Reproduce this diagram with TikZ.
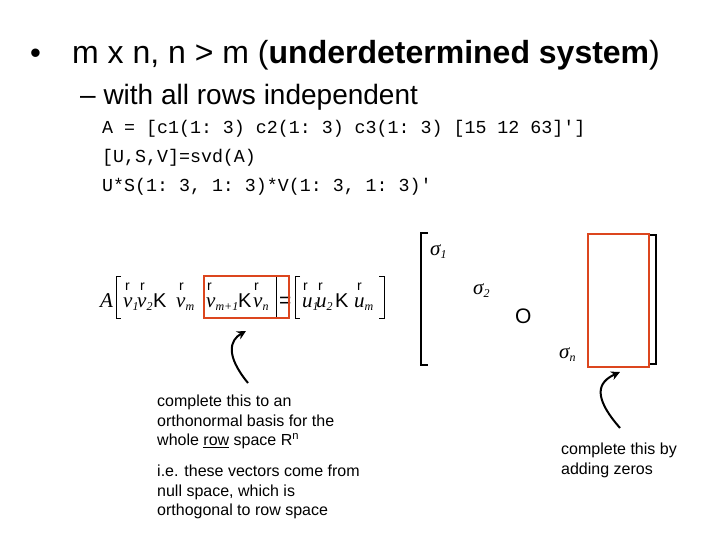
\documentclass[tikz,border=0pt]{standalone}
\usepackage{fontspec}
\usetikzlibrary{arrows.meta}
\setmainfont{Liberation Sans}
\setmonofont{Liberation Mono}
\newfontfamily\tms{Liberation Serif}
\newcommand{\iv}[2]{{\tms\itshape #1\textsubscript{\fontsize{12}{12}\selectfont #2}}}
\begin{document}
\begin{tikzpicture}[x=1pt,y=-1pt,
  txt/.style={anchor=base west,inner sep=0pt},
  mv/.style={txt,font=\fontsize{21}{21}\selectfont},
  rr/.style={txt,font=\fontsize{14}{14}\selectfont},
  kk/.style={txt,font=\fontsize{20}{20}\selectfont},
  brk/.style={line width=1pt},
  code/.style={txt,font=\ttfamily\fontsize{18.3}{18}\selectfont},
  note/.style={anchor=north west,inner sep=0pt,align=left,font=\fontsize{16}{19.5}\selectfont},
  redbox/.style={draw={rgb,255:red,220;green,70;blue,30},line width=2.5pt},
  arr/.style={line width=2pt,-{Stealth[length=9pt,width=9pt]}}]
\useasboundingbox (0,0) rectangle (720,540);
\node[txt,font=\fontsize{31}{31}\selectfont] (bu) at (30,64) {\textbullet};
\node[txt,font=\fontsize{32}{32}\selectfont] (t1) at (72,64) {m x n, n > m (\textbf{underdetermined system})};
\node[txt,font=\fontsize{28}{28}\selectfont] (t2) at (80,105) {– with all rows independent};
\node[code] (c1) at (102,134) {A = [c1(1: 3) c2(1: 3) c3(1: 3) [15 12 63]']};
\node[code] (c2) at (102,163) {[U,S,V]=svd(A)};
\node[code] (c3) at (102,192) {U*S(1: 3, 1: 3)*V(1: 3, 1: 3)'};
% equation pieces
\node[mv] (eA) at (100,307) {\iv{A}{}};
\draw[brk] (121,276) -- (116,276) -- (116,318) -- (121,318);
\node[mv] (ev1) at (123,307) {\iv{v}{1}};
\node[mv] (ev2) at (137,307) {\iv{v}{2}};
\node[kk] (ek1) at (153,307) {K};
\node[mv] (evm) at (176,307) {\iv{v}{m}};
\node[mv] (evm1) at (206,307) {\iv{v}{m+1}};
\node[kk] (ek2) at (238,307) {K};
\node[mv] (evn) at (253,307) {\iv{v}{n}};
\draw[brk] (271,276) -- (276,276) -- (276,318) -- (271,318);
\node[mv] (eeq) at (279,307) {=};
\draw[brk] (300,276) -- (295,276) -- (295,318) -- (300,318);
\node[mv] (eu1) at (302,307) {\iv{u}{1}};
\node[mv] (eu2) at (316,307) {\iv{u}{2}};
\node[kk] (ek3) at (335,307) {K};
\node[mv] (eum) at (354,307) {\iv{u}{m}};
\draw[brk] (379,276) -- (384,276) -- (384,318) -- (379,318);
\foreach \x/\n in {127/r1,142/r2,181/r3,209/r4,256/r5,305/r6,320/r7,359/r8}{
  \node[rr] (\n) at (\x-2,290) {r};}
\node[redbox,minimum width=85pt,minimum height=42pt,inner sep=0pt] (rb1) at (246.5,297) {};
% big matrix
\draw[line width=1.5pt] (428,233) -- (421,233) -- (421,365) -- (428,365);
\draw[line width=1.5pt] (650,235) -- (656,235) -- (656,364) -- (650,364);
\node[redbox,minimum width=61pt,minimum height=133pt,inner sep=0pt] (rb2) at (618.5,300.5) {};
\node[mv] (s1) at (430,255) {\iv{σ}{1}};
\node[mv] (s2) at (473,294) {\iv{σ}{2}};
\node[txt,font=\fontsize{21}{21}\selectfont] (o) at (515,323) {O};
\node[mv] (sn) at (559,358) {\iv{σ}{n}};
\coordinate (a1s) at (248,383);
\coordinate (a2s) at (620,428);
\draw[arr] (a1s) .. controls (225,355) and (230,340) .. (246,331);
\draw[arr] (a2s) .. controls (592,396) and (598,382) .. (620,372);
\node[note] (n1) at (157,395) {complete this to an\\orthonormal basis for the\\whole \underline{row} space R\textsuperscript{n}};
\node[note] (n2) at (157,465) {i.e. these vectors come from\\null space, which is\\orthogonal to row space};
\node[note] (n3) at (561,443) {complete this by\\adding zeros};
\end{tikzpicture}
\end{document}
